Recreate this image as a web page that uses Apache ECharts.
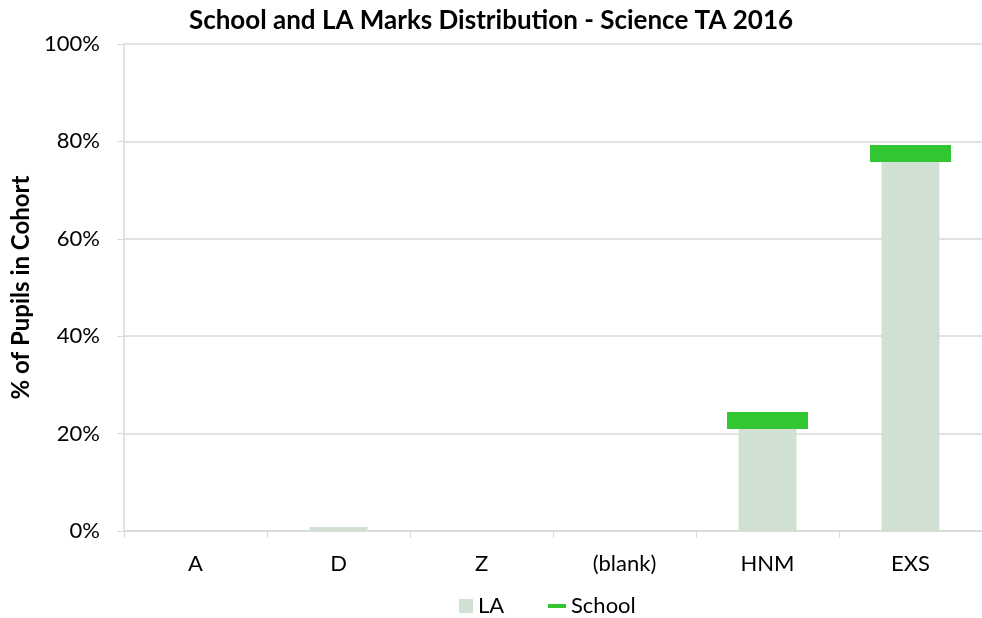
<!DOCTYPE html>
<html><head><meta charset="utf-8">
<script src="https://cdn.jsdelivr.net/npm/echarts@6/dist/echarts.min.js"></script>
<style>html,body{margin:0;padding:0;background:#fff}#c{width:982px;height:618px}</style>
</head><body><div id="c"></div>
<script>
const categories = ['A', 'D', 'Z', '(blank)', 'HNM', 'EXS'];
const laValues = [0, 0.8, 0, 0, 21, 76];
const schoolValues = [null, null, null, null, 22.7, 77.5];
const yTicks = [0, 20, 40, 60, 80, 100];

const chart = echarts.init(document.getElementById('c'), null, {renderer: 'canvas'});
const font = 'Lato, "Open Sans", sans-serif';
chart.setOption({
  animation: false,
  title: {
    text: 'School and LA Marks Distribution - Science TA 2016',
    left: 'center', top: 3,
    textStyle: {fontFamily: font, fontWeight: 'bold', fontSize: 26, color: '#000'}
  },
  legend: [
    {data: [{name: 'LA', icon: 'rect'}], left: 459, top: 595, padding: 0, itemWidth: 14, itemHeight: 14, itemGap: 6,
     textStyle: {fontFamily: font, fontSize: 22, color: '#000'}},
    {data: [{name: 'School', icon: 'rect'}], left: 548, top: 595, padding: 0, itemWidth: 18, itemHeight: 4, itemGap: 4,
     textStyle: {fontFamily: font, fontSize: 22, color: '#000'}}
  ],
  grid: {left: 124, width: 862, top: 44, bottom: 87},
  xAxis: {
    type: 'category', data: categories,
    axisLine: {lineStyle: {color: '#d9d9d9', width: 1.5}},
    axisTick: {show: true, length: 7, lineStyle: {color: '#d9d9d9'}},
    axisLabel: {fontFamily: font, fontSize: 22, color: '#000', margin: 22}
  },
  yAxis: {
    type: 'value', min: 0, max: 100, interval: 20,
    name: '% of Pupils in Cohort', nameLocation: 'middle', nameGap: 81, nameRotate: 90,
    nameTextStyle: {fontFamily: font, fontWeight: 'bold', fontSize: 24, color: '#000'},
    axisLine: {show: true, lineStyle: {color: '#d9d9d9', width: 1.5}},
    axisTick: {show: true, length: 7, inside: false, lineStyle: {color: '#d9d9d9'}},
    splitLine: {lineStyle: {color: '#d9d9d9', width: 1.5}},
    axisLabel: {fontFamily: font, fontSize: 22, color: '#000', margin: 24,
      formatter: v => yTicks.includes(v) ? v + '%' : ''}
  },
  series: [
    {name: 'LA', type: 'bar', data: laValues, barWidth: '40.5%',
     itemStyle: {color: '#d0e0d2'}},
    {name: 'School', type: 'scatter', data: schoolValues, symbol: 'rect', symbolSize: [81, 17],
     itemStyle: {color: '#33c633', opacity: 1}, z: 5}
  ]
});
</script></body></html>
